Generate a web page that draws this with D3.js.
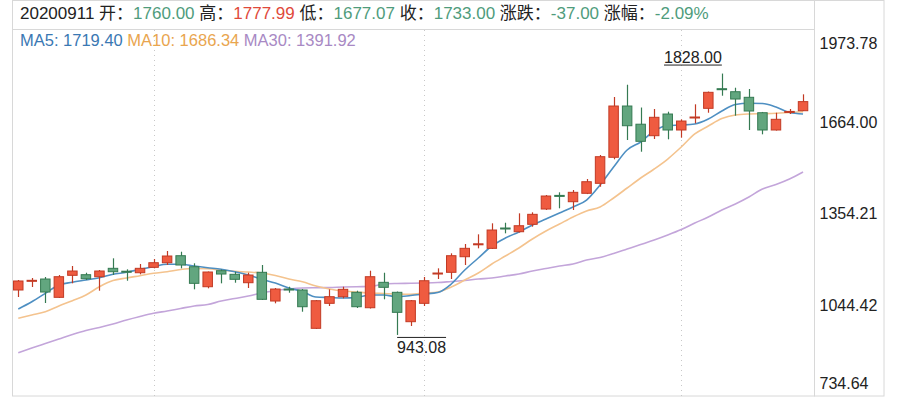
<!DOCTYPE html>
<html>
<head>
<meta charset="utf-8">
<script src="https://cdn.jsdelivr.net/npm/d3@7"></script>
<style>
  body { margin: 0; background: #fff; }
  text { font-family: "Liberation Sans", "Noto Sans CJK SC", sans-serif; }
</style>
</head>
<body>
<div id="chart"></div>
<script>
// daily k-line, 59 sessions
var open  = [1095.2,1125.7,1132.4,1070.4,1144.9,1147.0,1140.2,1168.6,1158.8,1153.7,
             1172.0,1187.6,1211.3,1174.0,1106.3,1160.5,1148.3,1119.9,1155.1,1057.9,
             1098.5,1095.2,965.5,1050.1,1072.5,1087.4,1035.2,1121.2,1087.4,987.9,
             1050.1,1150.7,1155.1,1207.9,1249.9,1236.3,1305.1,1292.5,1317.6,1369.4,
             1415.5,1394.1,1422.6,1456.4,1544.5,1718.1,1656.5,1617.6,1691.0,1636.9,
             1678.8,1710.3,1776.7,1766.5,1747.6,1695.4,1636.9,1697.8,1702.2];
var high  = [1129.0,1135.8,1139.2,1145.9,1176.4,1153.7,1162.9,1202.5,1165.2,1183.2,
             1200.1,1227.2,1224.8,1185.6,1157.8,1164.6,1157.1,1153.7,1179.8,1101.9,
             1106.3,1098.5,1061.3,1097.5,1106.3,1092.8,1160.5,1153.7,1090.0,1061.3,
             1139.2,1168.6,1219.4,1250.9,1283.7,1321.0,1323.0,1354.8,1358.2,1416.8,
             1425.9,1433.7,1471.0,1552.2,1748.6,1790.2,1713.0,1708.0,1698.9,1673.1,
             1723.9,1767.0,1828.00,1780.1,1775.7,1698.0,1695.4,1708.0,1757.7];
var low   = [1071.5,1105.3,1051.2,1068.1,1117.8,1129.0,1092.8,1145.9,1126.6,1148.3,
             1168.6,1179.8,1168.6,1097.5,1100.9,1117.8,1119.9,1101.9,1061.3,1050.1,
             1086.0,1021.7,963.1,1041.0,1067.1,1034.2,1032.5,1063.7,943.08,973.3,
             1041.0,1132.4,1132.4,1179.8,1236.3,1234.0,1287.1,1289.9,1309.5,1366.0,
             1371.8,1366.0,1420.0,1444.9,1537.7,1603.0,1563.4,1606.4,1605.4,1610.8,
             1659.5,1695.4,1753.0,1685.3,1636.9,1622.3,1635.0,1691.0,1701.0];
var close = [1125.7,1128.0,1088.4,1140.2,1159.5,1133.4,1159.5,1157.1,1156.1,1168.6,
             1187.6,1210.3,1179.8,1117.8,1156.1,1149.3,1131.4,1145.9,1063.7,1098.5,
             1096.5,1038.6,1058.9,1072.5,1097.5,1038.6,1140.2,1104.3,1019.6,1058.9,
             1126.6,1152.7,1211.3,1236.3,1251.6,1298.3,1303.0,1312.8,1351.4,1413.4,
             1413.4,1425.9,1461.8,1546.5,1718.1,1651.4,1598.6,1679.9,1636.9,1667.3,
             1680.9,1764.5,1774.7,1741.8,1701.2,1636.9,1673.1,1699.8,1733.0];

var ma5  = [1030.9,1055.6,1084.0,1112.1,1121.3,1129.0,1136.8,1148.3,1155.1,1165.3,
            1174.1,1182.2,1182.2,1176.4,1170.7,1165.3,1157.2,1146.0,1131.4,1118.9,
            1102.0,1090.1,1071.5,1069.8,1068.1,1069.8,1078.3,1078.3,1072.5,1076.6,
            1081.6,1086.7,1115.5,1162.9,1203.5,1244.2,1271.2,1291.6,1315.3,1335.6,
            1355.9,1376.2,1399.9,1450.7,1511.6,1569.2,1596.3,1633.5,1652.1,1653.8,
            1657.2,1674.1,1701.2,1723.2,1727.3,1726.6,1714.8,1696.1,1691.1];
var ma10 = [999.4,1010.5,1021.7,1041.0,1059.0,1078.3,1106.0,1127.0,1135.8,1143.6,
            1151.7,1157.2,1164.6,1168.0,1167.0,1162.9,1158.5,1156.1,1152.7,1144.3,
            1132.4,1123.3,1108.7,1098.6,1091.8,1088.4,1085.0,1083.3,1081.6,1080.6,
            1085.0,1088.4,1105.3,1129.0,1152.7,1183.2,1210.3,1237.4,1267.9,1294.9,
            1318.6,1342.3,1362.7,1376.2,1406.7,1440.5,1474.4,1504.9,1538.7,1579.3,
            1623.4,1650.4,1675.8,1687.7,1691.1,1692.1,1693.4,1696.1,1698.9];
var ma30 = [882.9,898.8,914.1,929.3,944.5,958.1,968.2,980.1,993.6,1005.5,
            1016.3,1024.1,1032.6,1041.0,1046.1,1057.9,1066.4,1074.9,1085.0,1093.5,
            1098.6,1102.0,1103.0,1103.7,1105.3,1106.4,1107.0,1115.5,1117.2,1117.9,
            1118.9,1120.6,1124.0,1127.4,1132.4,1135.8,1142.6,1149.4,1159.5,1168.0,
            1176.4,1183.2,1196.8,1205.2,1218.8,1234.0,1249.2,1264.5,1281.4,1300.0,
            1322.0,1342.3,1366.0,1386.4,1410.1,1437.1,1452.4,1471.0,1494.7];

var yTicks = [734.64, 1044.42, 1354.21, 1664.00, 1973.78];
var gridIdx = [10, 30, 49];

var infoDate = "20200911";
var infoLabels = ["开", "高", "低", "收", "涨跌", "涨幅"];
var infoValues = ["1760.00", "1777.99", "1677.07", "1733.00", "-37.00", "-2.09%"];
var maNames = ["MA5", "MA10", "MA30"];
var maLast = ["1719.40", "1686.34", "1391.92"];

var upColor = "#ef5b40", upEdge = "#c23a24";
var downColor = "#62a67f", downEdge = "#357a52";
var maColors = ["#4e8fc2", "#f4c38e", "#c3a5da"];
var maTextColors = ["#3a78b3", "#e9a54e", "#a889c4"];

var width = 900, height = 400;

var svg = d3.select("#chart").append("svg")
  .attr("width", width)
  .attr("height", height);

var idx = d3.range(open.length);

var x = d3.scaleBand().domain(idx).range([11.5, 809.8])
  .paddingInner(0.3).paddingOuter(0.15);
var y = d3.scaleLinear().domain([yTicks[0], yTicks[yTicks.length - 1]])
  .range([396.5, 30.5]);
var cx = function(i) { return x(i) + x.bandwidth() / 2; };

// frame
svg.append("rect")
  .attr("x", 12.5).attr("y", 0.5)
  .attr("width", 884 - 12.5).attr("height", 396 - 0.5)
  .attr("fill", "none").attr("stroke", "#d8d8d8");
svg.append("line")
  .attr("x1", 814.5).attr("x2", 814.5).attr("y1", 0).attr("y2", 396.5)
  .attr("stroke", "#d8d8d8");
svg.append("line")
  .attr("x1", 12).attr("x2", 814.5).attr("y1", 29.5).attr("y2", 29.5)
  .attr("stroke", "#d8d8d8");

// dotted verticals
svg.selectAll(".vgrid").data(gridIdx).enter().append("line")
  .attr("class", "vgrid")
  .attr("x1", function(d) { return Math.round(cx(d)) + 0.5; })
  .attr("x2", function(d) { return Math.round(cx(d)) + 0.5; })
  .attr("y1", 30).attr("y2", 396)
  .attr("stroke", "#c8c8c8")
  .attr("stroke-dasharray", "1,4");

// right axis labels
svg.selectAll(".ylab").data(yTicks).enter().append("text")
  .attr("class", "ylab")
  .attr("x", 819.5)
  .attr("y", function(d) { return Math.max(43, Math.min(383, y(d))); })
  .attr("dy", "0.35em")
  .attr("font-size", 16)
  .attr("fill", "#222")
  .text(function(d) { return d.toFixed(2); });

// moving averages
var line = d3.line()
  .x(function(d, i) { return cx(i); })
  .y(function(d) { return y(d); })
  .curve(d3.curveMonotoneX);

[ma30, ma10, ma5].forEach(function(s, k) {
  svg.append("path")
    .datum(s)
    .attr("d", line)
    .attr("fill", "none")
    .attr("stroke", maColors[2 - k])
    .attr("stroke-width", 1.6);
});

// candles
var candle = svg.selectAll(".candle").data(idx).enter().append("g")
  .attr("class", "candle");

candle.append("line")
  .attr("x1", function(i) { return Math.round(cx(i)) + 0.5; })
  .attr("x2", function(i) { return Math.round(cx(i)) + 0.5; })
  .attr("y1", function(i) { return y(high[i]); })
  .attr("y2", function(i) { return y(low[i]); })
  .attr("stroke", function(i) { return close[i] >= open[i] ? upEdge : downEdge; })
  .attr("stroke-width", 1.2);

candle.append("rect")
  .attr("x", function(i) { return x(i); })
  .attr("width", x.bandwidth())
  .attr("y", function(i) { return y(Math.max(open[i], close[i])); })
  .attr("height", function(i) { return Math.max(1, Math.abs(y(open[i]) - y(close[i]))); })
  .attr("fill", function(i) { return close[i] >= open[i] ? upColor : downColor; })
  .attr("stroke", function(i) { return close[i] >= open[i] ? upEdge : downEdge; })
  .attr("stroke-width", 1);

// max / min marks
var hiI = d3.maxIndex(high), loI = d3.minIndex(low);
var hiText = svg.append("text")
  .attr("x", cx(hiI)).attr("y", y(high[hiI]) - 11)
  .attr("text-anchor", "end")
  .attr("font-size", 16).attr("fill", "#222")
  .text(high[hiI].toFixed(2));
var hw = hiText.node().getComputedTextLength();
svg.append("line")
  .attr("x1", cx(hiI) - hw).attr("x2", cx(hiI))
  .attr("y1", y(high[hiI]) - 8.5).attr("y2", y(high[hiI]) - 8.5)
  .attr("stroke", "#222");

var loText = svg.append("text")
  .attr("x", cx(loI)).attr("y", y(low[loI]) + 18)
  .attr("font-size", 16).attr("fill", "#222")
  .text(low[loI].toFixed(2));
var lw = loText.node().getComputedTextLength();
svg.append("line")
  .attr("x1", cx(loI)).attr("x2", cx(loI) + lw)
  .attr("y1", y(low[loI]) + 2.5).attr("y2", y(low[loI]) + 2.5)
  .attr("stroke", "#222");

// header info
var infoColors = ["#4f9c7c", "#e0493b", "#4f9c7c", "#4f9c7c", "#4f9c7c", "#4f9c7c"];
var info = svg.append("text")
  .attr("x", 20).attr("y", 18.5)
  .attr("font-size", 17).attr("fill", "#222");
info.append("tspan").text(infoDate + " ");
infoLabels.forEach(function(l, k) {
  info.append("tspan").attr("fill", "#222").text(l + "：");
  info.append("tspan").attr("fill", infoColors[k])
    .text(infoValues[k] + (k < infoLabels.length - 1 ? " " : ""));
});

var maText = svg.append("text")
  .attr("x", 20).attr("y", 45.7)
  .attr("font-size", 16.5);
maNames.forEach(function(n, k) {
  maText.append("tspan").attr("fill", maTextColors[k])
    .text(n + ": " + maLast[k] + (k < maNames.length - 1 ? " " : ""));
});
</script>
</body>
</html>
